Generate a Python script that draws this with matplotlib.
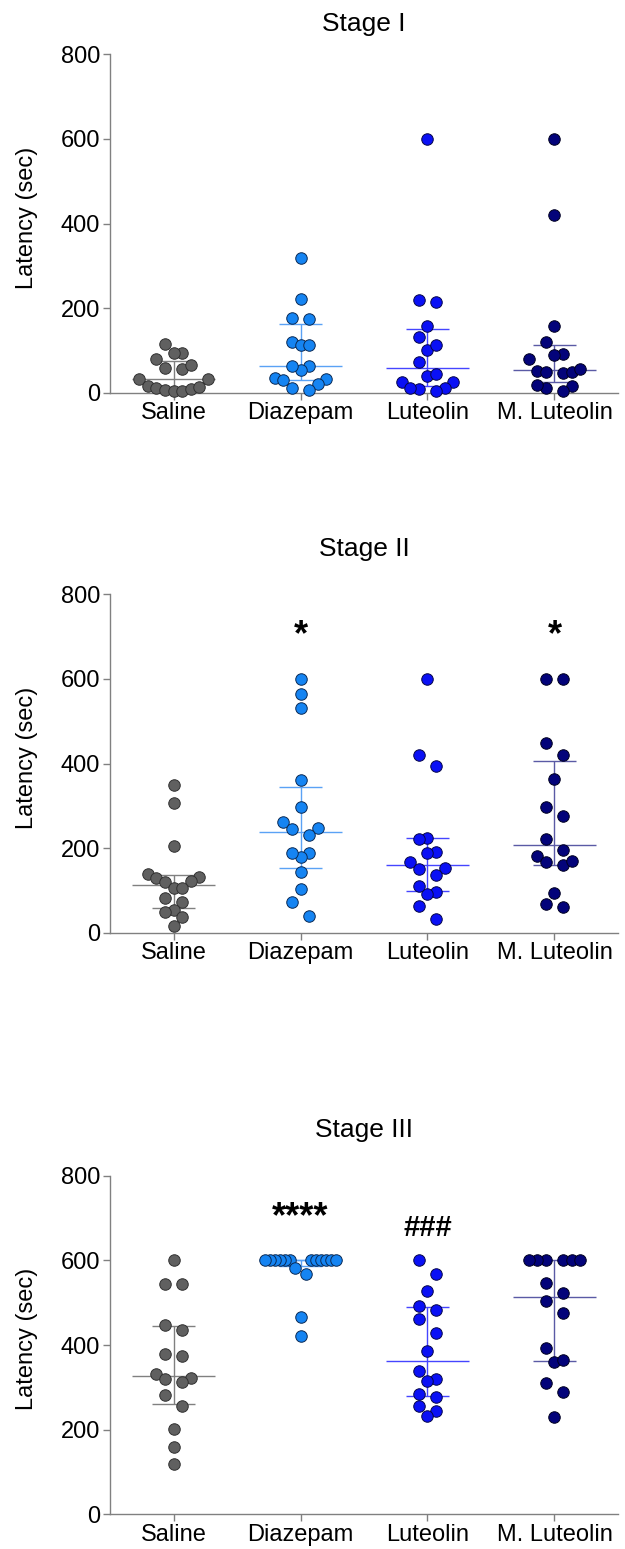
import numpy as np
import matplotlib
matplotlib.use("Agg")
import matplotlib.pyplot as plt

plt.rcParams['font.family'] = ['Liberation Sans', 'DejaVu Sans']

# ---------------- data ----------------
groups = ["Saline", "Diazepam", "Luteolin", "M. Luteolin"]
stage_titles = ["Stage I", "Stage II", "Stage III"]

stage1_saline = [114, 95, 93, 79, 59, 57, 65, 33, 33, 16, 12, 6, 4, 5, 8, 14]
stage1_diazepam = [318, 221, 177, 175, 121, 112, 112, 62, 54, 63, 32, 21, 34, 29, 6, 12]
stage1_luteolin = [600, 219, 214, 158, 131, 101, 112, 73, 40, 44, 26, 26, 10, 5, 9, 11]
stage1_mluteolin = [600, 420, 158, 120, 91, 80, 88, 52, 49, 47, 50, 57, 16, 5, 10, 19]

stage2_saline = [349, 307, 205, 138, 130, 132, 123, 119, 105, 105, 83, 72, 54, 48, 38, 16]
stage2_diazepam = [600, 565, 531, 361, 298, 262, 244, 248, 231, 189, 180, 189, 143, 103, 72, 39]
stage2_luteolin = [600, 420, 394, 225, 221, 190, 188, 168, 152, 150, 137, 96, 91, 110, 62, 33]
stage2_mluteolin = [600, 600, 448, 420, 364, 296, 277, 222, 182, 166, 159, 170, 195, 95, 61, 69]

stage3_saline = [600, 543, 543, 447, 435, 374, 379, 332, 320, 323, 312, 282, 255, 202, 158, 118]
stage3_diazepam = [600, 600, 600, 600, 600, 600, 600, 600, 600, 600, 600, 600, 582, 567, 466, 422]
stage3_luteolin = [600, 568, 528, 493, 483, 461, 428, 385, 339, 319, 315, 285, 277, 256, 243, 233]
stage3_mluteolin = [600, 600, 600, 600, 600, 600, 547, 523, 503, 476, 392, 361, 364, 310, 290, 230]

stage_data = [
    [stage1_saline, stage1_diazepam, stage1_luteolin, stage1_mluteolin],
    [stage2_saline, stage2_diazepam, stage2_luteolin, stage2_mluteolin],
    [stage3_saline, stage3_diazepam, stage3_luteolin, stage3_mluteolin],
]

# significance marks: (stage index, group index, text, y value)
sig_stage = [1, 1, 2, 2]
sig_group = [1, 3, 1, 2]
sig_text = ["*", "*", "****", "###"]
sig_value = [703, 703, 702, 676]

# ---------------- style ----------------
fill_colors = ["#606060", "#1584f2", "#0a10f5", "#03037a"]
edge_colors = ["#303030", "#0a2a55", "#06064a", "#000020"]
bar_colors = ["#808080", "#5aa2f5", "#4545ff", "#5a5aa5"]
spine_color = "#808080"

W, H = 625, 1549
fig = plt.figure(figsize=(W / 100, H / 100), dpi=100)

ax_left, ax_right = 110, 618
panel_tops = [54.3, 594.3, 1175.7]
panel_bottoms = [392.7, 932.7, 1514.3]
title_y = [24, 549, 1130]

marker_d_px = 11.5
step_px = 8.6
row_px = 14.0
max_width_px = 72.0


def swarm_offsets(vals, px_per_y):
    vals = np.asarray(vals, dtype=float)
    order = np.argsort(vals, kind="stable")
    rows, cur, start = [], [], None
    for i in order:
        v = vals[i]
        if start is None or (v - start) * px_per_y > row_px:
            if cur:
                rows.append(cur)
            cur, start = [i], v
        else:
            cur.append(i)
    if cur:
        rows.append(cur)
    off = np.zeros(len(vals))
    for row in rows:
        n = len(row)
        if n == 1:
            continue
        span = (n - 1) if n % 2 == 1 else n
        s = min(step_px, max_width_px / span)
        slots = []
        if n % 2 == 1:
            slots.append(0)
        k = 1
        while len(slots) < n:
            slots.extend([k, -k])
            k += 1
        for idx, sl in zip(row, slots[:n]):
            off[idx] = sl * s
    return off


for si in range(3):
    top, bot = panel_tops[si], panel_bottoms[si]
    ax = fig.add_axes([ax_left / W, 1 - bot / H, (ax_right - ax_left) / W, (bot - top) / H])
    ax.set_xlim(-0.5, 3.5)
    ax.set_ylim(0, 800)
    px_per_x = (ax_right - ax_left) / 4.0
    px_per_y = (bot - top) / 800.0

    for gi, vals in enumerate(stage_data[si]):
        vals = np.asarray(vals, dtype=float)
        q1, med, q3 = np.percentile(vals, [25, 50, 75], method="weibull")
        col = bar_colors[gi]
        ax.hlines(med, gi - 0.33, gi + 0.33, color=col, lw=1.0, zorder=2)
        ax.hlines([q1, q3], gi - 0.17, gi + 0.17, color=col, lw=1.0, zorder=2)
        ax.vlines(gi, q1, q3, color=col, lw=1.0, zorder=2)
        xo = gi + swarm_offsets(vals, px_per_y) / px_per_x
        ax.scatter(xo, vals, s=(marker_d_px * 0.72) ** 2, facecolor=fill_colors[gi],
                   edgecolor=edge_colors[gi], linewidths=0.7, zorder=3, clip_on=False)

    for k in range(len(sig_text)):
        if sig_stage[k] == si:
            fs = 21 if sig_text[k].startswith("#") else 26
            ax.text(sig_group[k], sig_value[k], sig_text[k], ha="center", va="center",
                    fontsize=fs, fontweight="bold", color="black")

    for sp in ["top", "right"]:
        ax.spines[sp].set_visible(False)
    for sp in ["left", "bottom"]:
        ax.spines[sp].set_color(spine_color)
        ax.spines[sp].set_linewidth(1.0)
    ax.set_yticks([0, 200, 400, 600, 800])
    ax.set_xticks(range(4))
    ax.set_xticklabels(groups)
    ax.tick_params(axis="y", length=5, width=1.0, color=spine_color, labelsize=17, pad=2)
    ax.tick_params(axis="x", length=5, width=1.0, color=spine_color, labelsize=17, pad=2)

    fig.text((ax_left + ax_right) / 2 / W, 1 - title_y[si] / H, stage_titles[si],
             ha="center", va="center", fontsize=19)
    fig.text(27 / W, 1 - ((top + bot) / 2 - 6) / H, "Latency (sec)", rotation=90,
             ha="center", va="center", fontsize=17)

fig.savefig("out.png", dpi=100)
